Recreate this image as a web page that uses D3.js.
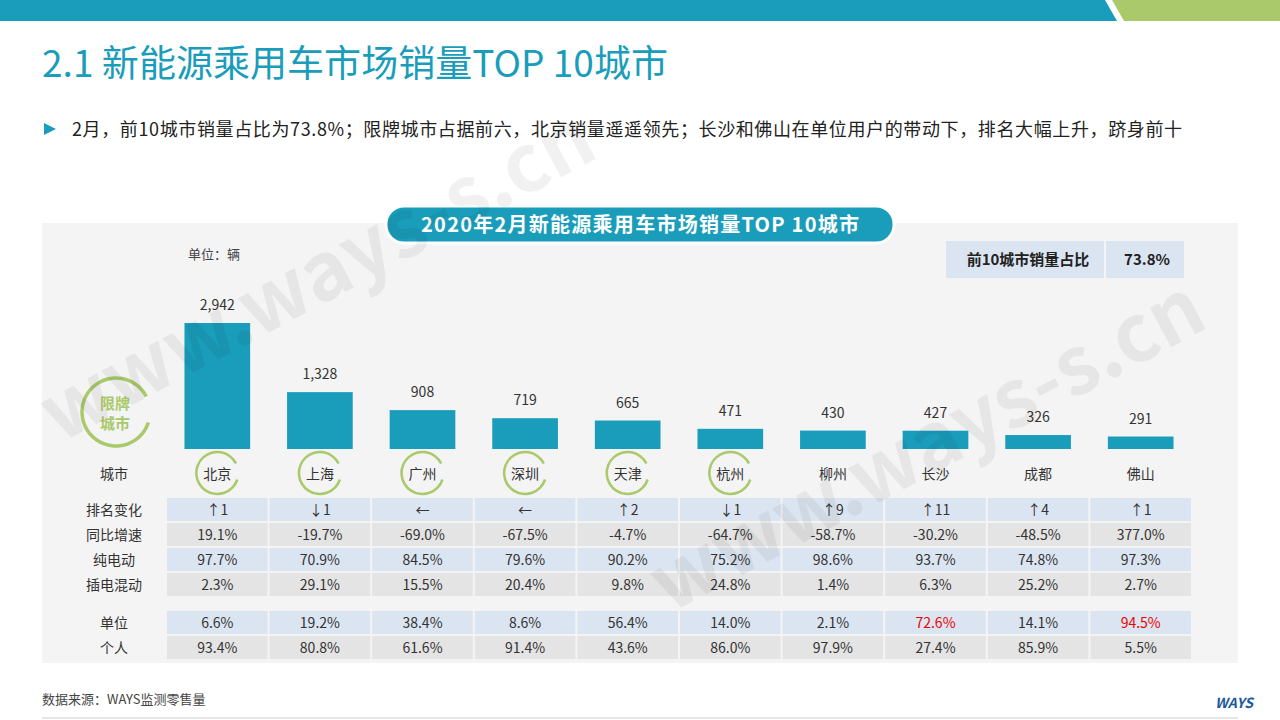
<!DOCTYPE html>
<html lang="zh">
<head>
<meta charset="utf-8">
<title>TOP 10城市</title>
<script src="https://d3js.org/d3.v7.min.js"></script>
<style>
  body { margin: 0; background: #fff; }
  text { font-family: "Noto Sans CJK SC", "Noto Sans", sans-serif; }
</style>
</head>
<body>
<svg id="chart" width="1280" height="720"></svg>
<script>
// 数据
const cities = ['北京', '上海', '广州', '深圳', '天津', '杭州', '柳州', '长沙', '成都', '佛山'];
const sales = [2942, 1328, 908, 719, 665, 471, 430, 427, 326, 291];
const rankChange = ['↑1', '↓1', '←', '←', '↑2', '↓1', '↑9', '↑11', '↑4', '↑1'];
const yoy = ['19.1%', '-19.7%', '-69.0%', '-67.5%', '-4.7%', '-64.7%', '-58.7%', '-30.2%', '-48.5%', '377.0%'];
const bev = ['97.7%', '70.9%', '84.5%', '79.6%', '90.2%', '75.2%', '98.6%', '93.7%', '74.8%', '97.3%'];
const phev = ['2.3%', '29.1%', '15.5%', '20.4%', '9.8%', '24.8%', '1.4%', '6.3%', '25.2%', '2.7%'];
const fleet = ['6.6%', '19.2%', '38.4%', '8.6%', '56.4%', '14.0%', '2.1%', '72.6%', '14.1%', '94.5%'];
const personal = ['93.4%', '80.8%', '61.6%', '91.4%', '43.6%', '86.0%', '97.9%', '27.4%', '85.9%', '5.5%'];
const restricted = ['北京', '上海', '广州', '深圳', '天津', '杭州'];
const highlight = ['72.6%', '94.5%'];

const teal = '#1a9dbb', green = '#a9c96a';
const svg = d3.select('#chart');

// 顶部条
svg.append('rect').attr('x', 0).attr('y', 0).attr('width', 1280).attr('height', 21).attr('fill', teal);
svg.append('polygon').attr('points', '1105,0 1280,0 1280,21 1117,21').attr('fill', '#fff');
svg.append('polygon').attr('points', '1112,0 1280,0 1280,21 1124,21').attr('fill', green);

svg.append('text').attr('x', 42).attr('y', 77).attr('font-size', 37).attr('fill', teal)
  .attr('textLength', 626).text('2.1 新能源乘用车市场销量TOP 10城市');
svg.append('polygon').attr('points', '44,123 44,135 56,129').attr('fill', teal);
svg.append('text').attr('x', 72).attr('y', 136).attr('font-size', 18).attr('fill', '#222')
  .attr('textLength', 1110).text('2月，前10城市销量占比为73.8%；限牌城市占据前六，北京销量遥遥领先；长沙和佛山在单位用户的带动下，排名大幅上升，跻身前十');

// 面板
svg.append('rect').attr('x', 42).attr('y', 223).attr('width', 1196).attr('height', 440).attr('fill', '#f4f4f4');
svg.append('rect').attr('x', 386).attr('y', 206).attr('width', 508).attr('height', 37).attr('rx', 18)
  .attr('fill', teal).attr('stroke', '#fff').attr('stroke-width', 3);
svg.append('text').attr('x', 640).attr('y', 232).attr('text-anchor', 'middle').attr('font-size', 20)
  .attr('font-weight', 'bold').attr('fill', '#fff').attr('textLength', 438).text('2020年2月新能源乘用车市场销量TOP 10城市');

svg.append('text').attr('x', 188).attr('y', 259).attr('font-size', 13).attr('fill', '#444').text('单位：辆');

svg.append('rect').attr('x', 946).attr('y', 241).attr('width', 158).attr('height', 37).attr('fill', '#dbe5f1');
svg.append('rect').attr('x', 1106).attr('y', 241).attr('width', 78).attr('height', 37).attr('fill', '#dbe5f1');
svg.append('text').attr('x', 1028).attr('y', 265).attr('text-anchor', 'middle').attr('font-size', 15)
  .attr('font-weight', 'bold').attr('fill', '#222').text('前10城市销量占比');
svg.append('text').attr('x', 1147).attr('y', 265).attr('text-anchor', 'middle').attr('font-size', 15)
  .attr('font-weight', 'bold').attr('fill', '#222').text('73.8%');

// 比例尺
const x = d3.scaleBand().domain(cities).range([166, 1192]).paddingInner(0.36).paddingOuter(0.18);
const xc = d3.scaleBand().domain(cities).range([166, 1192]);
const y = d3.scaleLinear().domain([0, 2942]).range([449, 323]);

svg.selectAll('.bar').data(cities).join('rect')
  .attr('x', d => x(d)).attr('width', x.bandwidth())
  .attr('y', (d, i) => y(sales[i])).attr('height', (d, i) => 449 - y(sales[i]))
  .attr('fill', teal);
svg.selectAll('.val').data(cities).join('text')
  .attr('x', d => xc(d) + xc.bandwidth() / 2).attr('y', (d, i) => y(sales[i]) - 13)
  .attr('text-anchor', 'middle').attr('font-size', 14).attr('fill', '#333')
  .text((d, i) => d3.format(',')(sales[i]));

// 限牌城市
const arc = d3.arc();
function ring(cx, cy, r, w) {
  svg.append('path').attr('transform', `translate(${cx},${cy})`)
    .attr('d', arc({ innerRadius: r - w / 2, outerRadius: r + w / 2, startAngle: Math.PI * 0.6, endAngle: Math.PI * 2.35 }))
    .attr('fill', green);
}
ring(116, 412, 34, 3.5);
svg.append('text').attr('x', 115).attr('y', 409).attr('text-anchor', 'middle').attr('font-size', 15)
  .attr('font-weight', 'bold').attr('fill', green).text('限牌');
svg.append('text').attr('x', 115).attr('y', 429).attr('text-anchor', 'middle').attr('font-size', 15)
  .attr('font-weight', 'bold').attr('fill', green).text('城市');

svg.append('text').attr('x', 114).attr('y', 479).attr('text-anchor', 'middle').attr('font-size', 14)
  .attr('fill', '#333').text('城市');
cities.forEach(c => {
  const cx = xc(c) + xc.bandwidth() / 2;
  if (restricted.includes(c)) ring(cx, 473, 21, 2.5);
  svg.append('text').attr('x', cx).attr('y', 479).attr('text-anchor', 'middle').attr('font-size', 14)
    .attr('fill', '#333').text(c);
});

// 表格
const rows = [
  { label: '排名变化', vals: rankChange, y: 498, fill: '#dbe5f1' },
  { label: '同比增速', vals: yoy, y: 523, fill: '#e4e4e4' },
  { label: '纯电动', vals: bev, y: 548, fill: '#dbe5f1' },
  { label: '插电混动', vals: phev, y: 573, fill: '#e4e4e4' },
  { label: '单位', vals: fleet, y: 611, fill: '#dbe5f1' },
  { label: '个人', vals: personal, y: 636, fill: '#e4e4e4' }
];
rows.forEach(r => {
  svg.append('text').attr('x', 114).attr('y', r.y + 17).attr('text-anchor', 'middle').attr('font-size', 14)
    .attr('fill', '#333').text(r.label);
  cities.forEach((c, i) => {
    svg.append('rect').attr('x', xc(c) + 1).attr('y', r.y).attr('width', xc.bandwidth() - 2).attr('height', 23)
      .attr('fill', r.fill);
    svg.append('text').attr('x', xc(c) + xc.bandwidth() / 2).attr('y', r.y + 17).attr('text-anchor', 'middle')
      .attr('font-size', 14).attr('fill', highlight.includes(r.vals[i]) && r.label === '单位' ? '#e00' : '#333')
      .text(r.vals[i]);
  });
});

// 水印
[[330, 300], [940, 470]].forEach(([wx, wy]) => {
  svg.append('text').attr('transform', `translate(${wx},${wy}) rotate(-28)`).attr('text-anchor', 'middle')
    .attr('font-size', 80).attr('font-weight', 'bold').attr('fill', '#000').attr('opacity', 0.05)
    .text('www.ways-s.cn');
});

// 脚注
svg.append('text').attr('x', 42).attr('y', 704).attr('font-size', 13).attr('fill', '#444').text('数据来源：WAYS监测零售量');
svg.append('line').attr('x1', 42).attr('x2', 1238).attr('y1', 718).attr('y2', 718).attr('stroke', '#ccc');
svg.append('text').attr('x', 1215).attr('y', 708).attr('font-size', 14).attr('font-style', 'italic')
  .attr('font-weight', 'bold').attr('fill', '#1a5a9b').text('WAYS');
</script>
</body>
</html>
